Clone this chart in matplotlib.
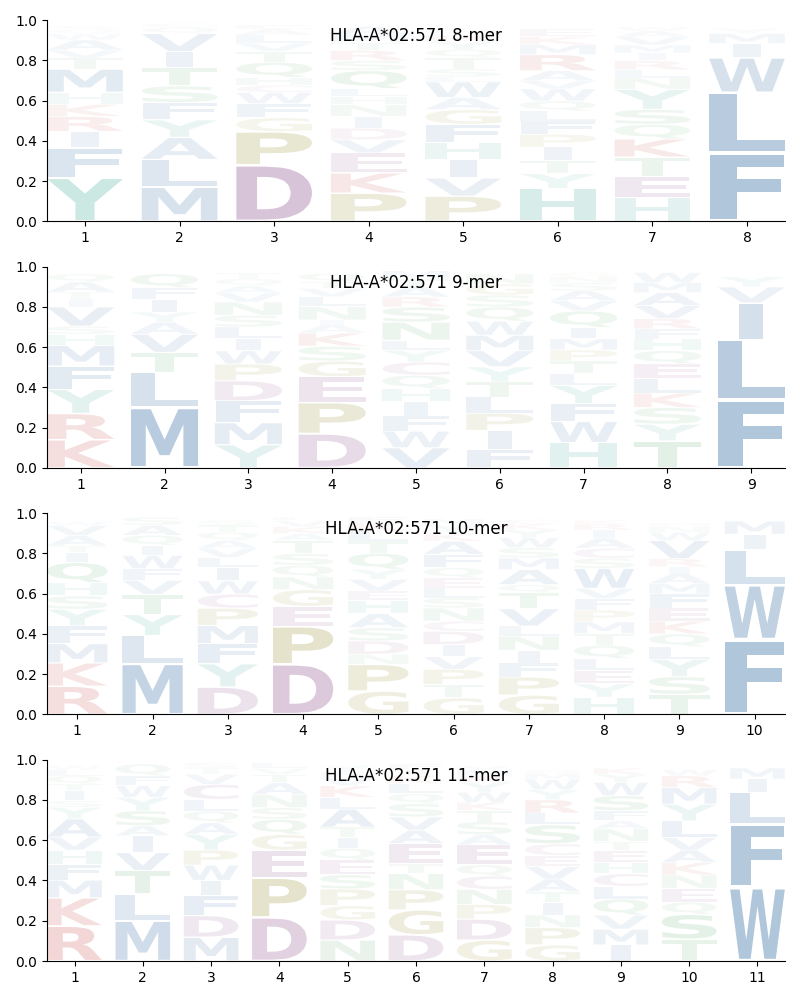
import matplotlib
matplotlib.use("Agg")
import matplotlib.pyplot as plt
from matplotlib.textpath import TextPath
from matplotlib.font_manager import FontProperties
from matplotlib.patches import PathPatch
from matplotlib.transforms import Affine2D

allele = "HLA-A*02:571"

# letters listed bottom -> top for each position, with stack heights
mer8_letters = ["YFIRKHMTVAWQS", "MLAYFSTIVQC", "DPGFWCHQTVLAE", "PKEVDINHLQSRTMA",
                "PVIHFGAWLSTQYRM", "HYTIPFLQWVARMKE", "HETKQSYNLRIMVAW", "FLWIMY"]
mer8_heights = [
    [.216, .15, .08, .075, .06, .06, .115, .055, .04, .05, .03, .02, .02],
    [.17, .137, .11, .087, .086, .083, .09, .08, .09, .03, .02],
    [.28, .165, .07, .07, .055, .035, .04, .075, .055, .04, .04, .03, .02],
    [.14, .1, .1, .065, .058, .058, .058, .04, .04, .09, .05, .05, .04, .04, .04],
    [.125, .09, .094, .083, .09, .073, .06, .077, .025, .04, .057, .04, .04, .03, .02],
    [.163, .074, .066, .066, .063, .066, .05, .05, .06, .04, .05, .08, .05, .04, .04],
    [.117, .107, .095, .09, .073, .074, .1, .057, .04, .045, .038, .04, .04, .03, .02],
    [.34, .30, .173, .07, .05, .025],
]

mer9_letters = ["KRYFMHSVITAQ", "MLTVAYIFQ", "YMFDPWILSNVAQT", "DPEGSKAINLVTQ",
                "VWFIHQCYLNSRATM", "FIPLTYVMWQSGN", "HWFYLTPMIQVASNG", "TYSKLEQHFRVAMW", "FLIVY"]
mer9_heights = [
    [.14, .13, .12, .116, .103, .055, .04, .096, .038, .036, .05, .04],
    [.30, .174, .10, .09, .06, .05, .063, .058, .07],
    [.115, .11, .108, .10, .083, .066, .06, .058, .058, .066, .045, .035, .035, .03],
    [.17, .155, .128, .078, .073, .066, .04, .025, .066, .05, .04, .035, .04],
    [.10, .083, .075, .07, .066, .066, .066, .058, .05, .09, .075, .05, .05, .04, .04],
    [.093, .093, .086, .08, .075, .075, .08, .077, .07, .07, .06, .055, .05],
    [.126, .104, .09, .09, .058, .063, .055, .056, .055, .083, .05, .05, .04, .03, .02],
    [.134, .083, .083, .071, .075, .071, .066, .058, .05, .05, .065, .065, .05, .05],
    [.337, .30, .182, .08, .05],
]

mer10_letters = ["RKMFYSHQITAVW", "MLYTVFWIQAS", "DYFMPCWILVAQTS", "DPEGNQSTAKVL",
                 "GPNDSAHEVYQTLKF", "GTPVIDCNSLEQFAKYM", "GPFINLVTQAMSWYKC",
                 "HYELQTMPFVWSCAIRK", "TSYLQKEFMAIRVWNH", "FWLIM"]
mer10_heights = [
    [.14, .116, .096, .088, .083, .066, .066, .10, .05, .033, .05, .05, .02],
    [.252, .14, .104, .10, .07, .058, .066, .05, .05, .05, .04],
    [.136, .116, .10, .09, .086, .07, .066, .066, .05, .045, .04, .04, .035, .025],
    [.25, .187, .10, .083, .063, .058, .058, .066, .033, .035, .03, .02],
    [.116, .133, .05, .066, .066, .07, .066, .046, .058, .05, .08, .06, .05, .04, .03],
    [.083, .066, .075, .063, .06, .066, .05, .066, .05, .05, .05, .05, .066, .066, .04, .04, .03],
    [.096, .09, .07, .063, .07, .05, .086, .08, .04, .075, .058, .05, .05, .04, .03, .02],
    [.086, .066, .066, .06, .066, .058, .058, .058, .058, .05, .10, .05, .05, .05, .04, .03, .02],
    [.10, .088, .086, .063, .063, .063, .066, .07, .05, .05, .035, .04, .09, .04, .03, .02],
    [.373, .27, .176, .076, .066],
]

mer11_letters = ["RKMFHVAYSITQLW", "MLTVIASYWFQ", "MDFIWPYAQLCVTS", "DPEGQSNATVL",
                 "NDGPSEQITALKVFY", "DGPNTEAVSQLKIF", "GDPNCQEASTKWYRMV",
                 "GPNITAVECSLRYWMQ", "IMVQLCHETNAFSWYK", "TSQENKAVLYMRW", "WFLIM"]
mer11_heights = [
    [.174, .14, .088, .078, .07, .066, .09, .058, .033, .05, .033, .04, .03, .02],
    [.20, .133, .116, .09, .083, .05, .075, .066, .058, .05, .058],
    [.118, .108, .10, .075, .075, .075, .078, .058, .058, .058, .075, .05, .03, .028],
    [.217, .196, .138, .078, .075, .058, .066, .058, .04, .03, .03],
    [.104, .10, .071, .083, .071, .073, .058, .055, .05, .09, .058, .058, .04, .03, .03],
    [.13, .124, .10, .08, .05, .10, .066, .066, .066, .05, .05, .04, .03, .03],
    [.104, .104, .073, .075, .066, .056, .10, .05, .063, .058, .04, .05, .05, .03, .03, .02],
    [.08, .086, .063, .063, .053, .062, .062, .055, .058, .095, .058, .066, .05, .05, .03, .02],
    [.08, .078, .07, .08, .063, .063, .055, .06, .045, .063, .04, .05, .075, .066, .04, .03],
    [.108, .124, .06, .07, .066, .061, .062, .062, .083, .083, .083, .058, .03],
    [.366, .315, .157, .066, .055],
]

panels = [("8-mer", mer8_letters, mer8_heights),
          ("9-mer", mer9_letters, mer9_heights),
          ("10-mer", mer10_letters, mer10_heights),
          ("11-mer", mer11_letters, mer11_heights)]

# colour groups
colors = {}
for aa in "AFILMVW":
    colors[aa] = "#4477AA"
for aa in "HY":
    colors[aa] = "#44AA99"
for aa in "DEC":
    colors[aa] = "#915891"
for aa in "KR":
    colors[aa] = "#C84646"
for aa in "GP":
    colors[aa] = "#948C2A"
for aa in "NQST":
    colors[aa] = "#55A868"

fp = FontProperties(family="DejaVu Sans", weight="bold")
glyphs = {}


def get_glyph(ch):
    if ch not in glyphs:
        p = TextPath((0, 0), ch, size=1, prop=fp)
        glyphs[ch] = (p, p.get_extents())
    return glyphs[ch]


e_width = get_glyph("E")[1].width


def draw_letter(ax, ch, x, y, w, h):
    path, ext = get_glyph(ch)
    pad = 0.03 * h
    hh = h - 2 * pad
    sx = w / max(ext.width, e_width)
    sy = hh / ext.height
    gw = ext.width * sx
    t = Affine2D().translate(-ext.x0, -ext.y0).scale(sx, sy).translate(x - gw / 2, y + pad)
    alpha = min(0.42, 1.25 * h)
    ax.add_patch(PathPatch(t.transform_path(path), facecolor=colors[ch],
                           edgecolor="none", alpha=alpha, lw=0))


fig, axes = plt.subplots(4, 1, figsize=(8, 10), dpi=100)
fig.subplots_adjust(left=0.059, right=0.981, top=0.98, bottom=0.039, hspace=0.225)

for ax, (name, letters, heights) in zip(axes, panels):
    n = len(letters)
    for i in range(n):
        y = 0.0
        for ch, h in zip(letters[i], heights[i]):
            draw_letter(ax, ch, i + 1, y, 0.8, h)
            y += h
    ax.set_xlim(0.6, n + 0.4)
    ax.set_ylim(0, 1)
    ax.set_xticks(range(1, n + 1))
    ax.set_yticks([0, 0.2, 0.4, 0.6, 0.8, 1.0])
    ax.spines["top"].set_visible(False)
    ax.spines["right"].set_visible(False)
    ax.text(0.5, 0.92, f"{allele} {name}", transform=ax.transAxes,
            ha="center", va="center", fontsize=12, zorder=10)

fig.savefig("out.png", dpi=100)
